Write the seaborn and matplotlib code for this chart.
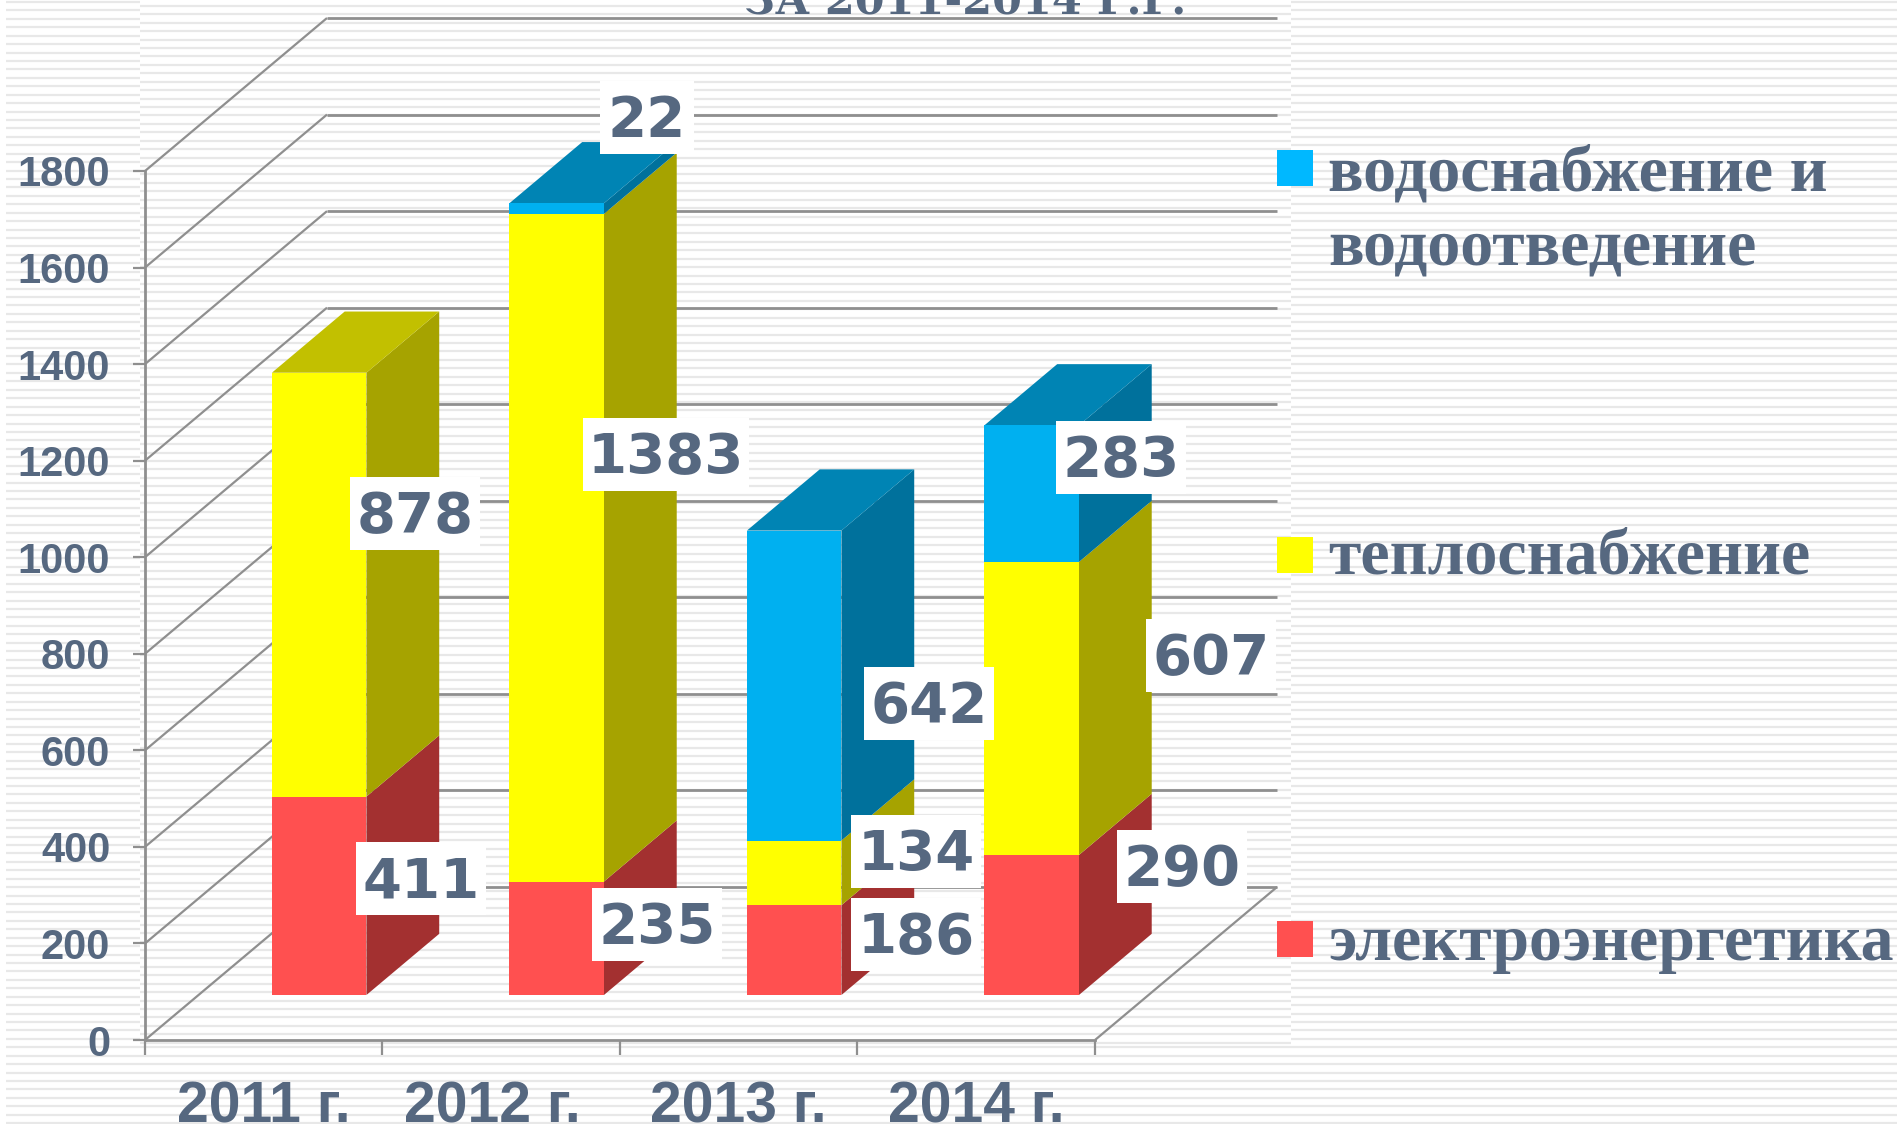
import numpy as np
import matplotlib
matplotlib.use("Agg")
import matplotlib.pyplot as plt
from matplotlib.patches import Rectangle
from matplotlib.transforms import ScaledTranslation
import seaborn as sns

# ---- data ----
years = ["2011 г.", "2012 г.", "2013 г.", "2014 г."]
electricity = [411, 235, 186, 290]
heating = [878, 1383, 134, 607]
water = [0, 22, 642, 283]
y_ticks = [0, 200, 400, 600, 800, 1000, 1200, 1400, 1600, 1800]
legend_labels = ["электроэнергетика", "теплоснабжение", "водоснабжение и\nводоотведение"]
title = "ЗА 2011-2014 Г.Г."

# ---- styling ----
W, H = 1897, 1124
TEXT = "#566880"
GRID = "#8f8f8f"
front = ["#ff5050", "#ffff00", "#00b0f0"]
side = ["#a33030", "#a6a300", "#00719c"]
top = ["#a33030", "#c2c000", "#0084b4"]
legend_col = ["#ff5050", "#ffff00", "#00b8ff"]

DX, DY = 182 / 237.5, 153 / 0.4828   # full depth of the plot in data units
BAR_D0, BAR_D = 0.294, 0.40          # bar front plane and bar depth, fraction of depth
BAR_W = 0.398

sns.set_style("white")
plt.rcParams["font.family"] = ["DejaVu Sans"]
fig = plt.figure(figsize=(W / 100, H / 100), dpi=100, facecolor="white")


def px_axes(z):
    a = fig.add_axes([0, 0, 1, 1], zorder=z)
    a.set_xlim(0, W)
    a.set_ylim(H, 0)
    a.axis("off")
    a.patch.set_alpha(0)
    return a


# striped background
bg = px_axes(0)
PERIOD = 8.43
ys_a = 2 + PERIOD * np.arange(0, 134)
ys_b = 5.8 + PERIOD * np.arange(0, 124)
ys_b = ys_b[ys_b < 1047]
STRIPE = dict(color="#e8e8e8", lw=1.6)
bg.hlines(ys_a, 6, 140, **STRIPE)
bg.hlines(ys_a, 1291, W, **STRIPE)
bg.hlines(ys_a[ys_a >= 1047], 140, 1291, **STRIPE)
bg.hlines(ys_b, 140, 1291, **STRIPE)

# main axes = front plane of the 3D box
ax = fig.add_axes([145 / W, 1 - 1040 / H, 950 / W, 869 / H], zorder=1)
ax.patch.set_alpha(0)

n = len(years)
series = [np.array(electricity), np.array(heating), np.array(water)]


def wall(xs, ys, **kw):
    ax.plot(xs, ys, color=GRID, clip_on=False, zorder=1, solid_capstyle="butt", **kw)


for v in y_ticks:
    wall([0, DX], [v, v + DY], lw=1.6)
    wall([DX, n + DX], [v + DY, v + DY], lw=2.0)
wall([n, n + DX], [0, DY], lw=1.6)

# bars
pos = np.arange(n) + 0.508 + DX * BAR_D0
base = DY * BAR_D0
bottom = np.full(n, base, dtype=float)
for i, vals in enumerate(series):
    sns.barplot(x=pos, y=vals, bottom=bottom, color=front[i], saturation=1,
                native_scale=True, width=BAR_W, errorbar=None, ax=ax,
                linewidth=0, clip_on=False, zorder=3)
    for j in range(n):
        if vals[j] <= 0:
            continue
        xr = pos[j] + BAR_W / 2
        xl = pos[j] - BAR_W / 2
        y0, y1 = bottom[j], bottom[j] + vals[j]
        ddx, ddy = DX * BAR_D, DY * BAR_D
        ax.fill([xr, xr + ddx, xr + ddx, xr], [y0, y0 + ddy, y1 + ddy, y1],
                color=side[i], lw=0, clip_on=False, zorder=2)
        if i == 2 or series[2][j] == 0 and i == 1:
            ax.fill([xl, xr, xr + ddx, xl + ddx], [y1, y1, y1 + ddy, y1 + ddy],
                    color=top[i], lw=0, clip_on=False, zorder=2)
    bottom = bottom + vals

# axes
ax.set_xlim(0, n)
ax.set_ylim(0, 1800)
ax.set_xlabel("")
ax.set_ylabel("")
for s in ("top", "right"):
    ax.spines[s].set_visible(False)
for s in ("left", "bottom"):
    ax.spines[s].set_color(GRID)
    ax.spines[s].set_linewidth(2)
ax.set_yticks(y_ticks)
ax.set_yticklabels([str(v) for v in y_ticks], family="Liberation Sans",
                   fontweight="bold", fontsize=30, color=TEXT)
ax.set_xticks(np.arange(n + 1))
ax.set_xticklabels([""] * (n + 1))
ax.set_xticks(np.arange(n) + 0.5, minor=True)
ax.set_xticklabels(years, minor=True, family="Liberation Sans",
                   fontweight="bold", fontsize=41, color=TEXT)
ax.tick_params(axis="y", which="major", length=9, width=1.6, color=GRID, pad=16, left=True)
ax.tick_params(axis="x", which="major", length=11, width=1.6, color=GRID, bottom=True)
ax.tick_params(axis="x", which="minor", length=0, pad=29, bottom=False)
xt = ax.get_xticklabels(minor=True)
xt[1].set_transform(xt[1].get_transform() + ScaledTranslation(-9 / 100, 0, fig.dpi_scale_trans))

# overlay: value labels, legend, title
ov = px_axes(2)
label_vals = [411, 878, 235, 1383, 22, 186, 134, 642, 290, 607, 283]
label_x = [421, 415, 657, 666, 647, 916, 916, 929, 1182, 1211, 1121]
label_y = [878, 513, 924, 454, 117, 934, 851, 703, 866, 655, 457]
for v, x, y in zip(label_vals, label_x, label_y):
    w = 22 + 36 * len(str(v))
    ov.add_patch(Rectangle((x - w / 2, y - 36.5), w, 73, fc="white", ec="none"))
    ov.text(x, y + 19, str(v), ha="center", va="baseline", fontsize=40.4,
            fontweight="bold", color=TEXT)

leg_y = [921, 537, 150]
leg_base = [960, 574, 191]
LEG_FS = 47.4
for i, lab in enumerate(legend_labels):
    ov.add_patch(Rectangle((1277, leg_y[i]), 36, 36, fc=legend_col[i], ec="none"))
    for k, line in enumerate(lab.split("\n")):
        ov.text(1328, leg_base[i] + 73 * k, line, family="Liberation Serif",
                fontweight="bold", fontsize=LEG_FS, color=TEXT, ha="left", va="baseline")

ov.text(965, 14, title, family="DejaVu Serif", fontweight="bold", fontsize=31,
        color=TEXT, ha="center", va="baseline", clip_on=False)

fig.savefig("out.png", dpi=100)
